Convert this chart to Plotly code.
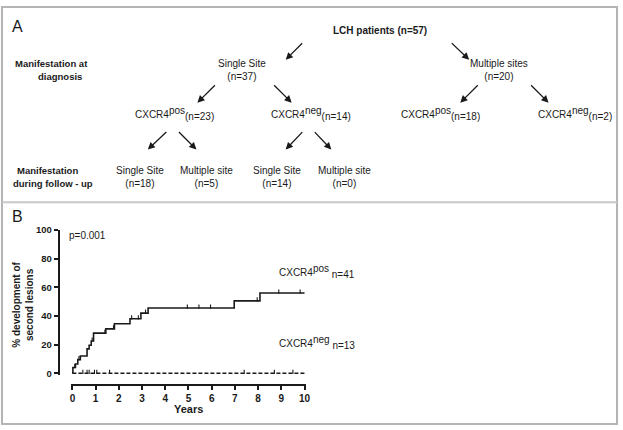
import plotly.graph_objects as go

# ---- data ----
# panel A: patient flow
top_node = ("LCH patients", 57)
diag_labels = ["Single Site", "Multiple sites"]
diag_n = [37, 20]
cxcr4_labels = ["pos", "neg", "pos", "neg"]
cxcr4_n = [23, 14, 18, 2]
follow_labels = ["Single Site", "Multiple site", "Single Site", "Multiple site"]
follow_n = [18, 5, 14, 0]

# panel B: cumulative incidence of second lesions (step curves)
pos_years = [0, 0.02, 0.13, 0.23, 0.34, 0.63, 0.72, 0.81, 0.91, 1.44, 1.81, 2.48, 2.95, 3.26, 6.97, 8.08, 10.0]
pos_pct = [0, 4.0, 6.5, 9.5, 12.0, 17.0, 19.5, 22.5, 28.0, 31.0, 34.5, 38.0, 42.0, 45.5, 50.5, 56.0, 56.0]
pos_censored = [0.1, 0.28, 0.85, 1.40, 1.77, 2.55, 2.84, 3.15, 4.95, 5.45, 5.95, 7.96, 8.89, 9.81]
neg_years = [0, 10.0]
neg_pct = [0, 0]
neg_censored = [0.45, 0.63, 0.72, 0.95, 1.05, 1.6, 7.4, 8.7, 9.5]
pos_n, neg_n = 41, 13
p_value = "p=0.001"
x_ticks = list(range(0, 11))
y_ticks = [0, 20, 40, 60, 80, 100]

# ---- layout helpers (pixel -> paper) ----
W, H = 623, 430
FONT = "Liberation Sans, Arial, sans-serif"
INK = "#1a1a1a"


def px(x):
    return x / W


def py(y):
    return 1 - y / H


def level_at(t, xs, ys):
    lvl = ys[0]
    for xv, yv in zip(xs, ys):
        if xv <= t:
            lvl = yv
    return lvl


def cx(label, n, space=""):
    # CXCR4 with full-size super/subscripts like the original
    return ("CXCR4<sup><span style='font-size:10px'>%s</span></sup>%s"
            "<sub><span style='font-size:10px'>%s</span></sub>" % (label, space, n))


fig = go.Figure()

# step curves
fig.add_trace(go.Scatter(x=pos_years, y=pos_pct, mode="lines", line_shape="hv",
                         line=dict(color=INK, width=1.6), showlegend=False))
fig.add_trace(go.Scatter(x=neg_years, y=neg_pct, mode="lines",
                         line=dict(color=INK, width=1.6, dash="4px,2px"), showlegend=False))

# censor ticks (sit just above the curve)
tick_lift = 1.0
fig.add_trace(go.Scatter(
    x=pos_censored, y=[level_at(t, pos_years, pos_pct) + tick_lift for t in pos_censored],
    mode="markers", marker=dict(symbol="line-ns", size=3, line=dict(color=INK, width=1.1)),
    showlegend=False))
fig.add_trace(go.Scatter(
    x=neg_censored, y=[level_at(t, neg_years, neg_pct) + tick_lift for t in neg_censored],
    mode="markers", marker=dict(symbol="line-ns", size=3, line=dict(color=INK, width=1.1)),
    showlegend=False))

ann = []


def text(x, y, s, size=10, bold=False, xanchor="center", **kw):
    ann.append(dict(x=px(x), y=py(y), xref="paper", yref="paper", text=s, showarrow=False,
                    xanchor=xanchor, yanchor="middle",
                    font=dict(family=FONT, size=size, color=INK, weight="bold" if bold else "normal"),
                    **kw))


def arrow(tx, ty, hx, hy):
    ann.append(dict(x=px(hx), y=py(hy), xref="paper", yref="paper", text="", showarrow=True,
                    ax=tx - hx, ay=ty - hy, arrowhead=2, arrowsize=1.1, arrowwidth=1.3,
                    arrowcolor=INK, standoff=0, startstandoff=0))


# panel A
text(17, 21, "A", size=16)
text(382, 25, "%s (n=%d)" % top_node, bold=True)
text(51, 59, "Manifestation at", size=9.5, bold=True)
text(59, 72, "diagnosis", size=9.5, bold=True)
text(47, 168, "Manifestation", size=9.5, bold=True)
text(52, 182, "during follow - up", size=9.5, bold=True)

arrow(305, 37, 287, 55)
arrow(453, 37, 472, 55)
for xc, lab, n in zip([243, 502], diag_labels, diag_n):
    text(xc, 66, "%s<br>(n=%d)" % (lab, n))
arrow(217, 80, 198, 99)
arrow(274, 80, 293, 99)
arrow(482, 80, 463, 99)
arrow(533, 80, 552, 99)
for xl, lab, n in zip([133, 270, 401, 539], cxcr4_labels, cxcr4_n):
    text(xl, 110, cx(lab, "(n=%d)" % n), xanchor="left")
arrow(168, 128, 148, 147)
arrow(178, 128, 197, 147)
arrow(305, 128, 287, 147)
arrow(315, 128, 333, 147)
for xc, lab, n in zip([140, 207, 278, 346], follow_labels, follow_n):
    text(xc, 175, "%s<br>(n=%d)" % (lab, n))

# panel B
text(17, 215, "B", size=16)
text(67, 235, p_value, xanchor="left")
text(278, 272, cx("pos", "n=%d" % pos_n, " "), xanchor="left")
text(278, 345, cx("neg", "n=%d" % neg_n, " "), xanchor="left")
text(189, 413, "Years", size=11, bold=True)
text(22, 306, "% development of<br>second lesions", size=10, bold=True, textangle=-90)

# axes geometry: x 0 -> 72px, 10 -> 306px ; y 0 -> 376px, 100 -> 229px
xr = [-0.08, 10.08]
xpx = lambda v: 72 + v * 23.4
yr = [-1, 100]
ypx = lambda v: 376 - v * 1.467

fig.update_layout(
    width=W, height=H, margin=dict(l=0, r=0, t=0, b=0),
    paper_bgcolor="white", plot_bgcolor="white",
    annotations=ann,
    xaxis=dict(range=xr, domain=[px(xpx(xr[0])), px(xpx(xr[1]))], anchor="free",
               position=py(388), showline=True, linecolor=INK, linewidth=1.6,
               ticks="outside", ticklen=4, tickwidth=1.5, tickcolor=INK,
               tickvals=x_ticks, showgrid=False, zeroline=False,
               tickfont=dict(family=FONT, size=10, color=INK, weight="bold")),
    yaxis=dict(range=yr, domain=[py(ypx(yr[0])), py(ypx(yr[1]))], anchor="free",
               position=px(58), showline=True, linecolor=INK, linewidth=1.6,
               ticks="outside", ticklen=4, tickwidth=1.5, tickcolor=INK,
               tickvals=y_ticks, showgrid=False, zeroline=False,
               tickfont=dict(family=FONT, size=9.5, color=INK, weight="bold")),
    shapes=[
        dict(type="rect", xref="paper", yref="paper", x0=px(1), x1=px(621), y0=py(428), y1=py(1),
             line=dict(color="#b4b4b4", width=2)),
        dict(type="line", xref="paper", yref="paper", x0=px(1), x1=px(621), y0=py(201), y1=py(201),
             line=dict(color="#c8c8c8", width=2)),
    ],
)

# the page's default 8px body margin would push the figure off the window
fig.write_html("out.html", config={"displayModeBar": False},
               post_script="document.documentElement.style.margin='0';"
                           "document.body.style.margin='0';"
                           "document.body.style.overflow='hidden';")
